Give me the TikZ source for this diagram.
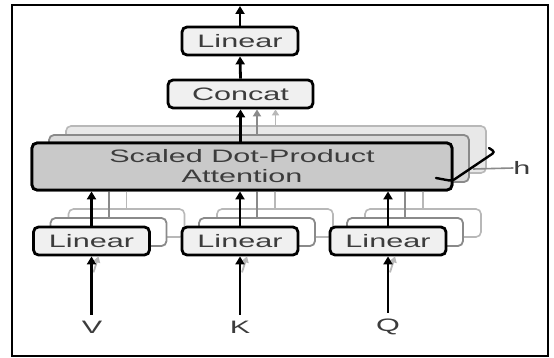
\documentclass[tikz,border=0pt]{standalone}
\usepackage{fontspec}
\setmainfont{Liberation Sans}
\usepackage{graphicx}
\usetikzlibrary{arrows.meta}
\newcommand\stretchtxt[1]{\scalebox{1.7}[1]{#1}}
\definecolor{txt}{HTML}{3C3C3C}
\definecolor{boxfill}{HTML}{F0F0F0}
\definecolor{sfill}{HTML}{C9C9C9}
\definecolor{cfillA}{HTML}{DADADA}
\definecolor{cfillB}{HTML}{E8E8E8}
\definecolor{cdrawA}{HTML}{8A8A8A}
\definecolor{cdrawB}{HTML}{B8B8B8}
\begin{document}
\begin{tikzpicture}[x=1pt,y=-1pt,
  box/.style={draw=black, line width=2.8pt, rounded corners=5pt, inner sep=0pt,
    text=txt, font=\fontsize{18}{20}\selectfont, align=center},
  lin/.style={box, fill=boxfill, minimum width=116pt, minimum height=28pt},
  sdpa/.style={box, fill=sfill, minimum width=420pt, minimum height=47pt},
  copyA/.style={draw=cdrawA, line width=1.8pt, rounded corners=5pt},
  copyB/.style={draw=cdrawB, line width=1.6pt, rounded corners=5pt},
  arr/.style={-{Triangle[length=8pt,width=9pt]}, line width=2.8pt, black},
  garrA/.style={-{Triangle[length=7pt,width=8pt]}, line width=2pt, cdrawA},
  garrB/.style={-{Triangle[length=6pt,width=7pt]}, line width=1.8pt, cdrawB},
  glineA/.style={line width=2pt, cdrawA},
  glineB/.style={line width=1.8pt, cdrawB},
  lbl/.style={text=txt, font=\fontsize{18}{20}\selectfont, inner sep=0pt}
]
\useasboundingbox (0,0) rectangle (554,358);
\fill[white] (0,0) rectangle (554,358);
\draw[line width=2pt] (12,5) rectangle (548,356);

% Scaled dot-product copies
\node[sdpa, copyB, fill=cfillB] (Sc) at (276,149.5) {};
\node[sdpa, copyA, fill=cfillA] (Sb) at (259,158.5) {};

% Linear copies
\foreach \n/\cx in {1/91.5, 2/240, 3/388}{
  \node[lin, copyB, fill=white] (L\n c) at (\cx+35,223) {};
  \node[lin, copyA, fill=white] (L\n b) at (\cx+17,232) {};
}

% main attention box
\node[sdpa] (S) at (242,166.5) {};
\foreach \n in {1,2,3}{
  \draw[glineB] (L\n c.north) -- (L\n c.north |- S.south);
  \draw[glineA] (L\n b.north) -- (L\n b.north |- S.south);
}
\node[sdpa] (S2) at (S) {\stretchtxt{Scaled Dot-Product}\\[0pt]\stretchtxt{Attention}};

% Main linear boxes
\node[lin] (L1) at (91.5,241) {\stretchtxt{Linear}};
\node[lin] (L2) at (240,241) {\stretchtxt{Linear}};
\node[lin] (L3) at (388,241) {\stretchtxt{Linear}};

% Concat and top Linear
\node[box, fill=boxfill, minimum width=145pt, minimum height=28pt] (C) at (240.5,94) {\stretchtxt{Concat}};
\node[lin] (T) at (240,41) {\stretchtxt{Linear}};
\coordinate (out) at (240,6);

% arrows to concat
\draw[garrB] (275.5,0 |- Sc.north) -- (275.5,0 |- C.south);
\draw[garrA] (257,0 |- Sb.north) -- (257,0 |- C.south);
\draw[arr] (C.south |- S.north) -- (C.south);
\draw[arr] (C.north) -- (T.south);
\draw[arr] (T.north) -- (out);

% linear to attention
\foreach \n in {1,2,3}{
  \draw[arr] (L\n.north) -- (L\n.north |- S.south);
}

% inputs
\node[lbl] (V) at (92,327) {\stretchtxt{V}};
\node[lbl] (K) at (240,327) {\stretchtxt{K}};
\node[lbl] (Q) at (388,327) {\stretchtxt{Q}};
\foreach \n/\m in {1/V,2/K,3/Q}{
  \draw[garrB] ([xshift=2pt,yshift=-16pt]L\n.south) -- ([xshift=7pt]L\n.south);
  \draw[arr] ([yshift=6pt]L\n.south |- \m.north) -- (L\n.south);
}

% h bracket
\draw[line width=2.4pt, line cap=round, rounded corners=3pt] (436,178) -- (452,181) -- (495,152) -- (489,148);
\node[lbl] (h) at (522,168) {\stretchtxt{h}};
\draw[glineA, line width=1.6pt] (473,169) -- (h.west);
\end{tikzpicture}
\end{document}
